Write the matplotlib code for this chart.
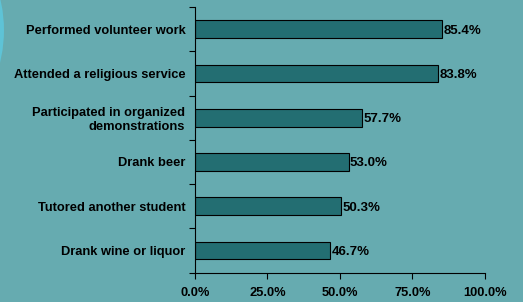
import matplotlib.pyplot as plt
from matplotlib.patches import Ellipse

categories = ['Performed volunteer work', 'Attended a religious service',
              'Participated in organized\ndemonstrations', 'Drank beer',
              'Tutored another student', 'Drank wine or liquor']
values = [85.4, 83.8, 57.7, 53.0, 50.3, 46.7]
xticks = [0, 25, 50, 75, 100]

bg = '#66abb0'
bar_color = '#236e72'

plt.rcParams['font.family'] = ['Liberation Sans', 'DejaVu Sans']
plt.rcParams['font.weight'] = 'bold'

fig = plt.figure(figsize=(5.23, 3.02), dpi=100, facecolor=bg)
ax = fig.add_axes([0.3728, 0.097, 0.554, 0.88])
ax.set_facecolor(bg)

# light arc peeking in at the left edge
arc = Ellipse((-0.2524, 0.9), 0.52, 0.9, transform=fig.transFigure,
              facecolor='#5ec3d6', edgecolor='none', zorder=0)
fig.patches.append(arc)

ypos = list(range(len(categories)))[::-1]
ax.barh(ypos, values, height=0.4, color=bar_color, edgecolor='black', linewidth=0.8)
for y, v in zip(ypos, values):
    ax.text(v + 0.5, y, f'{v:.1f}%', va='center_baseline', ha='left', fontsize=9.5,
            fontweight='bold', color='black')

ax.set_xlim(0, 100)
ax.set_ylim(-0.5, len(categories) - 0.5)
ax.set_xticks(xticks)
ax.set_xticklabels([f'{t:.1f}%' for t in xticks], fontsize=9.3, fontweight='bold')
ax.set_yticks(ypos)
ax.set_yticklabels(categories, fontsize=9.3, fontweight='bold')
ax.tick_params(axis='y', length=0, pad=7)
ax.set_yticks([i - 0.5 for i in range(len(categories) + 1)], minor=True)
ax.tick_params(axis='y', which='minor', length=4, width=0.8)
ax.tick_params(axis='x', length=4, width=0.8, pad=6)

for s in ['top', 'right']:
    ax.spines[s].set_visible(False)
for s in ['left', 'bottom']:
    ax.spines[s].set_linewidth(0.8)

fig.savefig('out.png', dpi=100, facecolor=bg)
